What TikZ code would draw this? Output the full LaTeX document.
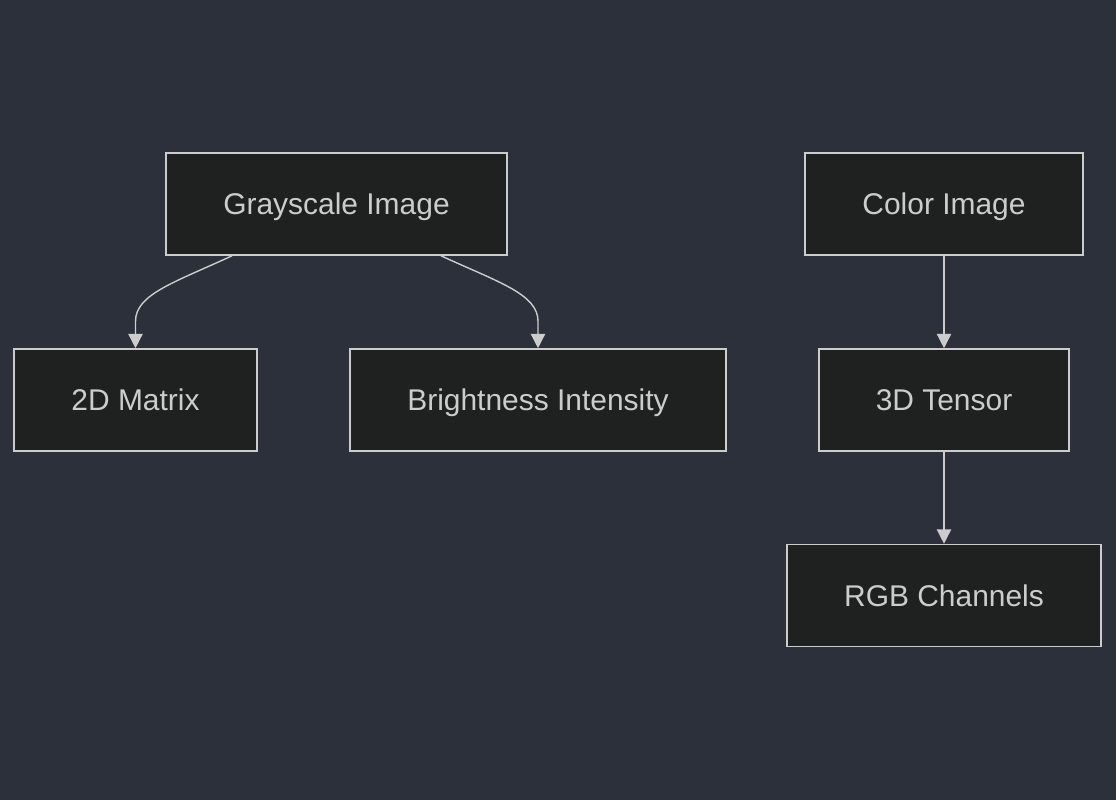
\documentclass[tikz,border=0pt]{standalone}
\usepackage{fontspec}
\setmainfont{Liberation Sans}
\usetikzlibrary{arrows.meta,calc}
\definecolor{bgcol}{HTML}{2B303B}
\definecolor{boxcol}{HTML}{1F2020}
\definecolor{linecol}{HTML}{CCCCCC}
\tikzset{
  box/.style={draw=linecol,fill=boxcol,line width=1.1pt,text=linecol,
    minimum height=2.55cm,inner sep=0pt,text height=18.1pt,text depth=2.85pt,
    font=\fontsize{21.3}{25}\selectfont},
  edge/.style={draw=linecol,line width=1pt,-{Triangle[width=0.36cm,length=0.36cm]}}
}
\begin{document}
\begin{tikzpicture}[x=0.025cm,y=-0.025cm]
\fill[bgcol](0,0) rectangle (1116,800);
\useasboundingbox (0,0) rectangle (1116,800);
% top row
\node[box,minimum width=8.525cm] (gray) at (336.5,204) {Grayscale Image};
\node[box,minimum width=6.95cm] (color) at (944,204) {Color Image};
% second row
\node[box,minimum width=6.075cm] (mat) at (135.5,400) {2D Matrix};
\node[box,minimum width=9.4cm] (bright) at (538,400) {Brightness Intensity};
\node[box,minimum width=6.25cm] (tensor) at (944,400) {3D Tensor};
% third row
\node[box,minimum width=7.85cm] (rgb) at (944,595.5) {RGB Channels};
% edges
\draw[edge] ($(gray.south)+(-104.5,0)$) .. controls ($(mat.north)+(39.5,-66)$) and ($(mat.north)+(0,-54)$) .. ($(mat.north)+(0,-27)$) -- (mat.north);
\draw[edge] ($(gray.south)+(104.5,0)$) .. controls ($(bright.north)+(-39.5,-66)$) and ($(bright.north)+(0,-54)$) .. ($(bright.north)+(0,-27)$) -- (bright.north);
\draw[edge] (color) -- (tensor);
\draw[edge] (tensor) -- (rgb);
\end{tikzpicture}
\end{document}
